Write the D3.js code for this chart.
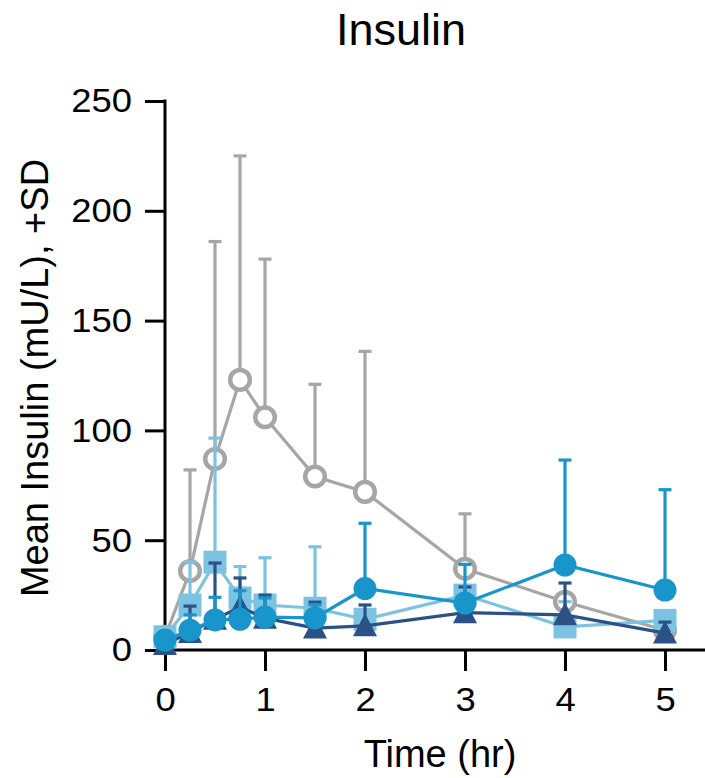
<!DOCTYPE html>
<html><head><meta charset="utf-8">
<script src="https://cdn.jsdelivr.net/npm/d3@7"></script>
<style>html,body{margin:0;padding:0;background:#fff;}svg{display:block;}</style>
</head><body>
<svg id="chart" width="705" height="778"></svg>
<script>
const times = [0, 0.25, 0.5, 0.75, 1, 1.5, 2, 3, 4, 5];
const xTicks = [0, 1, 2, 3, 4, 5];
const yTicks = [0, 50, 100, 150, 200, 250];

const grayMean  = [6, 36, 87, 123, 106, 79, 72, 37, 22, 9];
const graySD    = [0, 46, 99, 102, 72, 42, 64, 25, 0, 0];
const lightMean = [6, 20.5, 40, 23.7, 20.5, 19, 14, 25, 10.5, 13.5];
const lightSD   = [0, 19.5, 56.5, 14.3, 21.5, 28, 0, 0, 11.5, 3.5];
const navyMean  = [2.5, 8, 14, 19.6, 14.5, 10, 11, 17, 16, 7.7];
const navySD    = [0, 12, 25.6, 13.2, 10.5, 11.8, 9.5, 11.7, 14.5, 5];
const midMean   = [4.5, 9, 13.7, 14, 15, 14.6, 28, 21.4, 38.7, 27.3];
const midSD     = [0, 7, 10.3, 13, 8.7, 6, 29.7, 17.6, 47.8, 45.7];

const svg = d3.select("#chart");
const x = d3.scaleLinear().domain([0, 5]).range([165, 665]);
const y = d3.scaleLinear().domain([0, 250]).range([650, 101]);
const font = "'Liberation Sans', Arial, Helvetica, sans-serif";
const stretch = 1.07;

// axes
const yAxis = svg.append("g").attr("transform", `translate(${x(0)},0)`)
  .call(d3.axisLeft(y).tickValues(yTicks).tickSize(20).tickPadding(13).tickSizeOuter(0));
const xAxis = svg.append("g").attr("transform", `translate(0,${y(0)})`)
  .call(d3.axisBottom(x).tickValues(xTicks).tickFormat(d3.format("d")).tickSize(21).tickPadding(16).tickSizeOuter(0));
[yAxis, xAxis].forEach(a => {
  a.select(".domain").remove();
  a.selectAll(".tick line").attr("stroke", "#000").attr("stroke-width", 3);
  a.selectAll(".tick text").attr("fill", "#000").style("font-family", font).style("font-size", "34px");
});
yAxis.selectAll(".tick text").attr("x", -33 / stretch).attr("transform", `scale(${stretch},1)`);
xAxis.selectAll(".tick text").attr("transform", `scale(${stretch},1)`);

svg.append("line").attr("x1", x(0)).attr("x2", 705).attr("y1", y(0)).attr("y2", y(0))
  .attr("stroke", "#000").attr("stroke-width", 3);
svg.append("line").attr("x1", x(0)).attr("x2", x(0)).attr("y1", y(250) - 1.5).attr("y2", y(0) + 1.5)
  .attr("stroke", "#000").attr("stroke-width", 3);

const series = [
  {mean: grayMean, sd: graySD, color: "#a6a6a6", shape: "open"},
  {mean: lightMean, sd: lightSD, color: "#7cc3e2", shape: "square"},
  {mean: navyMean, sd: navySD, color: "#2a5287", shape: "triangle"},
  {mean: midMean, sd: midSD, color: "#1896cc", shape: "circle"}
];

const line = d3.line().x(d => x(d.t)).y(d => y(d.m));
series.forEach(s => {
  const pts = times.map((t, i) => ({t, m: s.mean[i], sd: s.sd[i]}));
  const g = svg.append("g");
  const eb = g.selectAll(".eb").data(pts.filter(d => d.sd > 0)).enter().append("g");
  eb.append("line").attr("x1", d => x(d.t)).attr("x2", d => x(d.t))
    .attr("y1", d => y(d.m)).attr("y2", d => y(d.m + d.sd))
    .attr("stroke", s.color).attr("stroke-width", 3.2);
  eb.append("line").attr("x1", d => x(d.t) - 6.5).attr("x2", d => x(d.t) + 6.5)
    .attr("y1", d => y(d.m + d.sd)).attr("y2", d => y(d.m + d.sd))
    .attr("stroke", s.color).attr("stroke-width", 3.2);
  g.append("path").datum(pts).attr("d", line).attr("fill", "none")
    .attr("stroke", s.color).attr("stroke-width", 3.2);
  const mk = g.selectAll(".mk").data(pts).enter();
  if (s.shape === "open") {
    mk.append("circle").attr("cx", d => x(d.t)).attr("cy", d => y(d.m)).attr("r", 9.8)
      .attr("fill", "#fff").attr("stroke", s.color).attr("stroke-width", 4.5);
  } else if (s.shape === "circle") {
    mk.append("circle").attr("cx", d => x(d.t)).attr("cy", d => y(d.m)).attr("r", 11.5)
      .attr("fill", s.color);
  } else if (s.shape === "square") {
    mk.append("rect").attr("x", d => x(d.t) - 11.5).attr("y", d => y(d.m) - 11.5)
      .attr("width", 23).attr("height", 23).attr("fill", s.color);
  } else {
    mk.append("path").attr("d", d => {
      const cx = x(d.t), cy = y(d.m);
      return `M${cx},${cy - 12.5}L${cx + 12},${cy + 10.5}L${cx - 12},${cy + 10.5}Z`;
    }).attr("fill", s.color);
  }
});

// titles
svg.append("text").attr("x", 401).attr("y", 45).attr("text-anchor", "middle")
  .style("font-family", font).style("font-size", "45px").text("Insulin");
svg.append("text").attr("x", 440).attr("y", 767).attr("text-anchor", "middle")
  .style("font-family", font).style("font-size", "38px").text("Time (hr)");
svg.append("text").attr("transform", "translate(48,378) rotate(-90)").attr("text-anchor", "middle")
  .style("font-family", font).style("font-size", "38px").text("Mean Insulin (mU/L), +SD");
</script>
</body></html>
